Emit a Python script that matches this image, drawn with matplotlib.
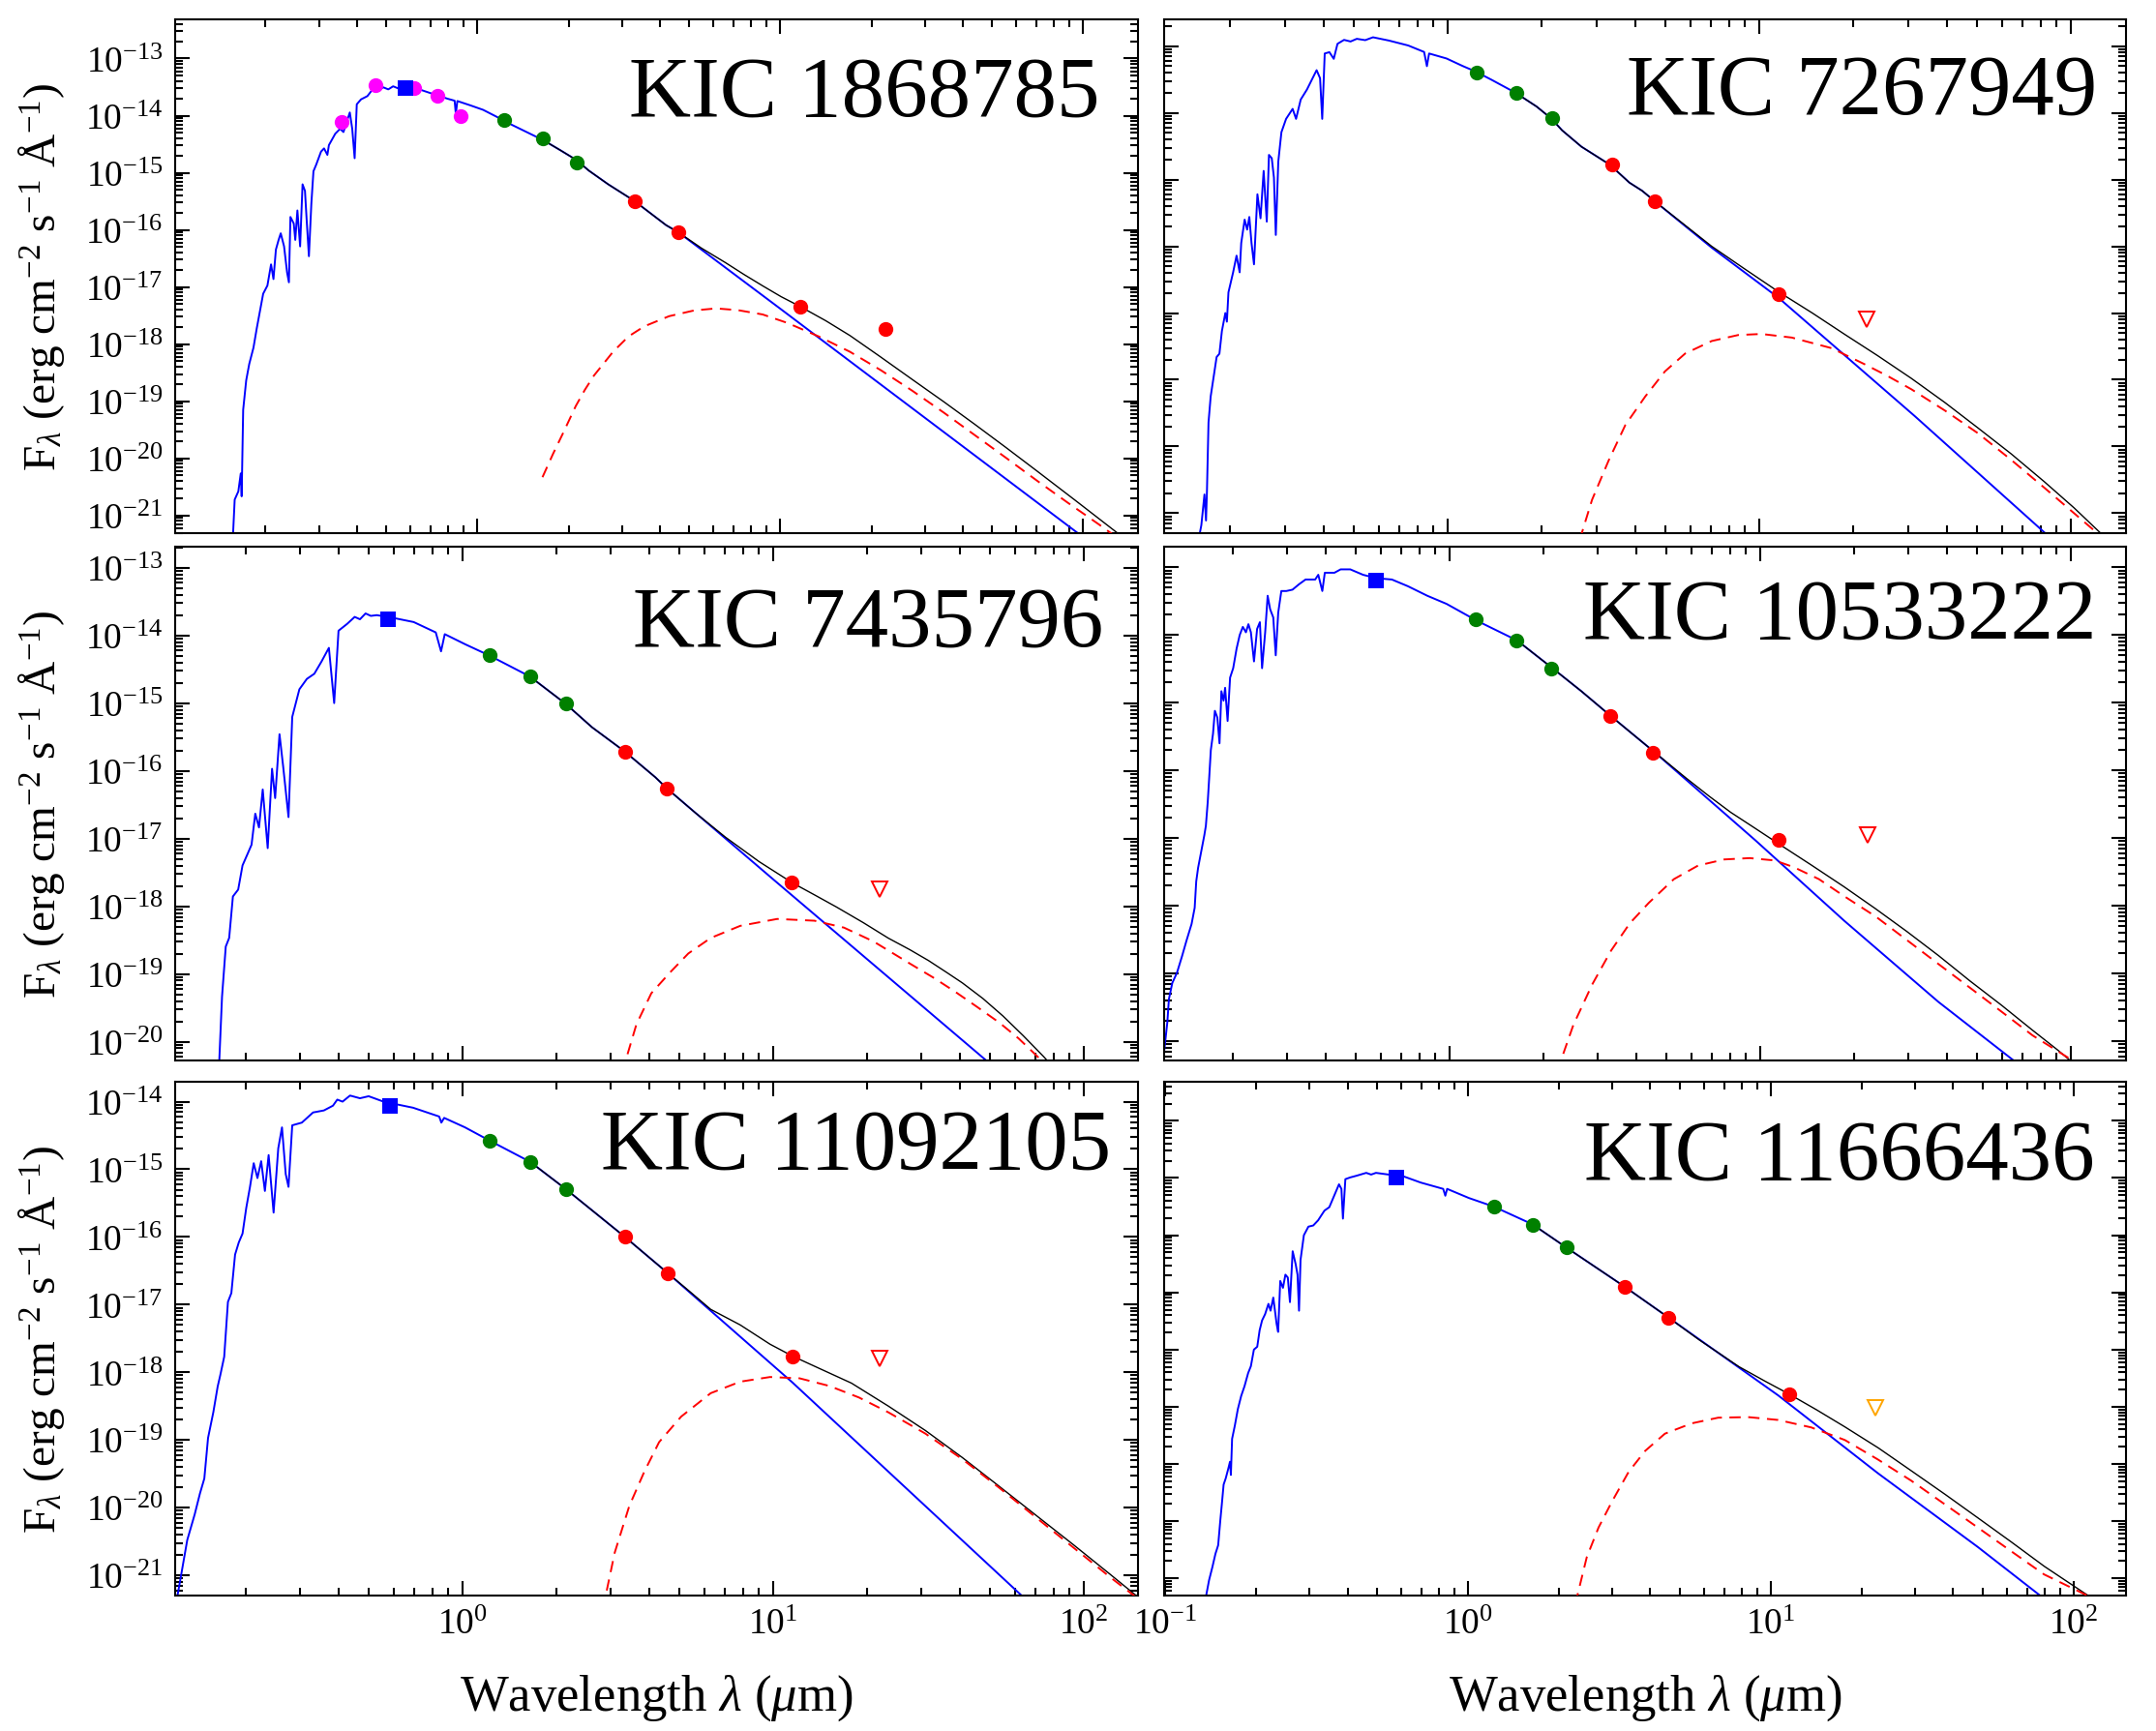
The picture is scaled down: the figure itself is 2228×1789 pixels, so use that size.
import numpy as np
import matplotlib
matplotlib.use("Agg")
import matplotlib.pyplot as plt
from matplotlib.ticker import FixedLocator, FuncFormatter, NullFormatter

plt.rcParams['font.family'] = 'serif'
plt.rcParams['font.serif'] = ['Liberation Serif', 'Times New Roman', 'DejaVu Serif']
plt.rcParams['mathtext.fontset'] = 'custom'
plt.rcParams['mathtext.rm'] = 'serif'
plt.rcParams['mathtext.it'] = 'serif:italic'
plt.rcParams['mathtext.bf'] = 'serif:bold'

# spectra: columns = log10(wavelength / um), log10(F_lambda)
# photometry: wavelength in um, log10(F_lambda)

# ---------------- KIC 1868785 ----------------
tl_star = np.array([
    [-0.808, -21.5], [-0.801, -20.722], [-0.789, -20.579], [-0.781, -20.264], [-0.778, -20.665],
    [-0.773, -19.149], [-0.763, -18.634], [-0.753, -18.348], [-0.739, -18.062], [-0.728, -17.719],
    [-0.721, -17.519], [-0.714, -17.319], [-0.707, -17.118], [-0.693, -16.975], [-0.681, -16.604],
    [-0.673, -16.861], [-0.665, -16.346], [-0.656, -16.175], [-0.649, -16.060], [-0.638, -16.289],
    [-0.628, -16.747], [-0.622, -16.918], [-0.617, -15.774], [-0.606, -15.889], [-0.601, -16.175],
    [-0.594, -15.660], [-0.585, -16.289], [-0.577, -15.202], [-0.569, -15.317], [-0.564, -15.774],
    [-0.556, -16.461], [-0.548, -15.545], [-0.541, -14.973], [-0.532, -14.859], [-0.516, -14.630],
    [-0.506, -14.573], [-0.495, -14.687], [-0.490, -14.516], [-0.469, -14.316], [-0.453, -14.230],
    [-0.442, -14.287], [-0.421, -13.944], [-0.413, -14.230], [-0.405, -14.745], [-0.398, -13.801],
    [-0.384, -13.715], [-0.363, -13.658], [-0.342, -13.515], [-0.326, -13.545], [-0.310, -13.505],
    [-0.294, -13.540], [-0.278, -13.486], [-0.257, -13.532], [-0.214, -13.515], [-0.183, -13.555],
    [-0.151, -13.612], [-0.098, -13.704], [-0.075, -13.738], [-0.071, -13.972], [-0.066, -13.744],
    [-0.024, -13.818], [0.019, -13.898], [0.061, -14.012], [0.114, -14.161], [0.167, -14.298],
    [0.220, -14.436], [0.273, -14.602], [0.326, -14.773], [0.368, -14.962], [0.432, -15.202],
    [0.517, -15.488], [0.623, -15.917], [0.664, -16.044], [1.0, -17.38], [1.5, -19.38], [2.05, -21.58]])
tl_total = np.array([
    [0.220, -14.436], [0.273, -14.602], [0.326, -14.773], [0.368, -14.962], [0.432, -15.202],
    [0.517, -15.488], [0.623, -15.917], [0.664, -16.044], [0.740, -16.32], [0.818, -16.57],
    [0.880, -16.78], [0.942, -16.98], [1.003, -17.17], [1.065, -17.34], [1.150, -17.59],
    [1.230, -17.85], [1.330, -18.22], [1.436, -18.62], [1.540, -19.01], [1.641, -19.40],
    [1.745, -19.81], [1.847, -20.22], [1.975, -20.74], [2.104, -21.27], [2.16, -21.5]])
tl_dust = np.array([
    [0.215, -20.33], [0.250, -19.92], [0.283, -19.558], [0.325, -19.083], [0.355, -18.80],
    [0.385, -18.55], [0.448, -18.134], [0.499, -17.866], [0.551, -17.689], [0.633, -17.511],
    [0.716, -17.41], [0.788, -17.375], [0.860, -17.405], [0.942, -17.481], [1.024, -17.63],
    [1.127, -17.866], [1.230, -18.134], [1.333, -18.46], [1.436, -18.817], [1.540, -19.20],
    [1.641, -19.589], [1.745, -19.99], [1.847, -20.389], [1.950, -20.78], [2.053, -21.161],
    [2.115, -21.4]])
tl_opt_w = [0.357, 0.461, 0.618, 0.738, 0.880]
tl_opt_f = [-14.104, -13.469, -13.515, -13.646, -14.001]
tl_kp_w = [0.581]
tl_kp_f = [-13.515]
tl_nir_w = [1.223, 1.647, 2.13]
tl_nir_f = [-14.07, -14.401, -14.813]
tl_wise_w = [3.31, 4.61, 11.6, 22.2]
tl_wise_f = [-15.50, -16.044, -17.35, -17.743]
tl_ul_w = []
tl_ul_f = []

# ---------------- KIC 7267949 ----------------
tr_star = np.array([
    [-0.800, -20.4], [-0.791, -20.18], [-0.781, -19.72], [-0.776, -20.11], [-0.773, -19.67],
    [-0.768, -18.64], [-0.761, -18.25], [-0.750, -17.91], [-0.742, -17.66], [-0.733, -17.61],
    [-0.725, -17.27], [-0.714, -17.00], [-0.709, -17.13], [-0.704, -16.69], [-0.689, -16.39],
    [-0.678, -16.14], [-0.668, -16.39], [-0.663, -15.95], [-0.652, -15.60], [-0.644, -15.75],
    [-0.637, -15.56], [-0.630, -15.95], [-0.622, -16.27], [-0.611, -15.22], [-0.601, -15.58],
    [-0.591, -14.87], [-0.581, -15.63], [-0.574, -14.63], [-0.565, -14.68], [-0.558, -14.97],
    [-0.552, -15.83], [-0.544, -14.73], [-0.534, -14.29], [-0.519, -14.09], [-0.498, -13.94],
    [-0.487, -14.09], [-0.472, -13.80], [-0.452, -13.65], [-0.436, -13.50], [-0.421, -13.36],
    [-0.410, -13.48], [-0.403, -14.09], [-0.395, -13.11], [-0.380, -13.09], [-0.366, -13.19],
    [-0.354, -12.965], [-0.333, -12.906], [-0.312, -12.93], [-0.292, -12.89], [-0.265, -12.91],
    [-0.240, -12.867], [-0.189, -12.916], [-0.127, -12.99], [-0.076, -13.087], [-0.067, -13.30],
    [-0.060, -13.11], [-0.004, -13.185], [0.048, -13.298], [0.089, -13.38], [0.140, -13.503],
    [0.218, -13.70], [0.285, -13.905], [0.331, -14.08], [0.367, -14.262], [0.429, -14.507],
    [0.520, -14.776], [0.583, -15.046], [0.624, -15.168], [0.6656, -15.33], [0.847, -16.02],
    [1.061, -16.77], [1.5, -18.55], [1.914, -20.285], [1.96, -20.48]])
tr_total = np.array([
    [0.218, -13.70], [0.285, -13.905], [0.331, -14.08], [0.367, -14.262], [0.429, -14.507],
    [0.520, -14.776], [0.583, -15.046], [0.624, -15.168], [0.6656, -15.33], [0.847, -16.0],
    [0.95, -16.33], [1.061, -16.68], [1.170, -17.00], [1.274, -17.32], [1.380, -17.64],
    [1.488, -17.98], [1.595, -18.34], [1.701, -18.72], [1.808, -19.11], [1.915, -19.53],
    [2.010, -19.92], [2.1, -20.32], [2.12, -20.4]])
tr_dust = np.array([
    [0.423, -20.4], [0.431, -20.285], [0.463, -19.80], [0.516, -19.214], [0.570, -18.678],
    [0.634, -18.25], [0.697, -17.875], [0.762, -17.607], [0.847, -17.42], [0.932, -17.33],
    [1.007, -17.314], [1.104, -17.368], [1.232, -17.527], [1.338, -17.768], [1.410, -17.94],
    [1.488, -18.143], [1.595, -18.46], [1.701, -18.80], [1.808, -19.20], [1.915, -19.62],
    [2.000, -19.96], [2.081, -20.285], [2.1, -20.37]])
tr_opt_w = []
tr_opt_f = []
tr_kp_w = []
tr_kp_f = []
tr_nir_w = [1.24, 1.663, 2.163]
tr_nir_f = [-13.39, -13.707, -14.082]
tr_wise_w = [3.365, 4.63, 11.5]
tr_wise_f = [-14.78, -15.33, -16.72]
tr_ul_w = [22.1]
tr_ul_f = [-17.087]

# ---------------- KIC 7435796 ----------------
ml_star = np.array([
    [-0.784, -20.4], [-0.774, -19.333], [-0.762, -18.594], [-0.751, -18.466], [-0.739, -17.854],
    [-0.722, -17.752], [-0.708, -17.395], [-0.691, -17.217], [-0.679, -17.09], [-0.667, -16.631],
    [-0.655, -16.835], [-0.643, -16.274], [-0.627, -17.14], [-0.613, -15.968], [-0.603, -16.401],
    [-0.589, -15.458], [-0.577, -15.943], [-0.560, -16.682], [-0.548, -15.202], [-0.525, -14.794],
    [-0.501, -14.641], [-0.477, -14.565], [-0.454, -14.386], [-0.430, -14.182], [-0.413, -14.998],
    [-0.399, -13.929], [-0.371, -13.827], [-0.347, -13.725], [-0.330, -13.760], [-0.312, -13.674],
    [-0.295, -13.710], [-0.276, -13.699], [-0.228, -13.735], [-0.157, -13.801], [-0.086, -13.954],
    [-0.069, -14.234], [-0.057, -13.980], [0.010, -14.132], [0.086, -14.294], [0.217, -14.605],
    [0.332, -15.008], [0.417, -15.355], [0.522, -15.712], [0.621, -16.094], [0.658, -16.258],
    [1.0, -17.60], [1.687, -20.28], [1.72, -20.41]])
ml_total = np.array([
    [0.217, -14.605], [0.332, -15.008], [0.417, -15.355], [0.522, -15.712], [0.621, -16.094],
    [0.658, -16.258], [0.750, -16.62], [0.847, -16.98], [0.955, -17.34], [1.061, -17.65],
    [1.133, -17.83], [1.204, -18.01], [1.290, -18.24], [1.371, -18.47], [1.440, -18.64],
    [1.500, -18.80], [1.560, -18.98], [1.609, -19.13], [1.675, -19.36], [1.740, -19.62],
    [1.805, -19.91], [1.871, -20.22], [1.91, -20.42]])
ml_dust = np.array([
    [0.514, -20.45], [0.560, -19.742], [0.608, -19.283], [0.668, -18.977], [0.727, -18.696],
    [0.799, -18.467], [0.894, -18.288], [1.013, -18.186], [1.133, -18.212], [1.228, -18.314],
    [1.323, -18.518], [1.442, -18.85], [1.515, -19.05], [1.585, -19.258], [1.655, -19.48],
    [1.728, -19.717], [1.790, -19.95], [1.847, -20.2], [1.88, -20.35]])
ml_opt_w = []
ml_opt_f = []
ml_kp_w = [0.578]
ml_kp_f = [-13.764]
ml_nir_w = [1.22, 1.65, 2.15]
ml_nir_f = [-14.294, -14.605, -15.008]
ml_wise_w = [3.33, 4.55, 11.5]
ml_wise_f = [-15.712, -16.258, -17.65]
ml_ul_w = [22.0]
ml_ul_f = [-17.752]

# ---------------- KIC 10533222 ----------------
mr_star = np.array([
    [-0.93, -20.6], [-0.909, -19.72], [-0.904, -19.38], [-0.893, -19.14], [-0.878, -18.99],
    [-0.862, -18.75], [-0.847, -18.51], [-0.831, -18.27], [-0.821, -18.03], [-0.816, -17.64],
    [-0.810, -17.44], [-0.800, -17.20], [-0.790, -16.96], [-0.785, -16.82], [-0.779, -16.47],
    [-0.774, -16.09], [-0.769, -15.70], [-0.762, -15.46], [-0.756, -15.12], [-0.748, -15.22],
    [-0.741, -15.60], [-0.735, -14.83], [-0.728, -14.97], [-0.723, -14.78], [-0.715, -15.27],
    [-0.707, -14.63], [-0.697, -14.49], [-0.686, -14.20], [-0.676, -14.00], [-0.666, -13.88],
    [-0.656, -13.96], [-0.648, -13.84], [-0.640, -13.96], [-0.630, -14.39], [-0.620, -13.91],
    [-0.611, -13.81], [-0.604, -14.49], [-0.594, -13.96], [-0.586, -13.42], [-0.578, -13.62],
    [-0.568, -13.74], [-0.560, -14.30], [-0.552, -13.67], [-0.542, -13.35], [-0.526, -13.35],
    [-0.506, -13.33], [-0.485, -13.25], [-0.464, -13.18], [-0.433, -13.18], [-0.423, -13.11],
    [-0.410, -13.35], [-0.402, -13.08], [-0.371, -13.08], [-0.351, -13.03], [-0.320, -13.03],
    [-0.279, -13.11], [-0.237, -13.16], [-0.186, -13.18], [-0.134, -13.28], [-0.072, -13.42],
    [-0.010, -13.54], [0.088, -13.79], [0.217, -14.08], [0.331, -14.49], [0.424, -14.83],
    [0.517, -15.19], [0.662, -15.74], [0.986, -17.04], [1.270, -18.22], [1.5735, -19.42],
    [1.817, -20.29], [1.85, -20.42]])
mr_total = np.array([
    [0.217, -14.08], [0.331, -14.49], [0.424, -14.83], [0.517, -15.19], [0.662, -15.74],
    [0.763, -16.12], [0.835, -16.38], [0.905, -16.62], [0.985, -16.86], [1.061, -17.09],
    [1.165, -17.40], [1.270, -17.72], [1.370, -18.04], [1.472, -18.38], [1.575, -18.74],
    [1.675, -19.11], [1.777, -19.47], [1.877, -19.84], [1.960, -20.14], [2.04, -20.45]])
mr_dust = np.array([
    [0.346, -20.45], [0.358, -20.29], [0.398, -19.765], [0.459, -19.163], [0.520, -18.661],
    [0.580, -18.26], [0.641, -17.958], [0.722, -17.607], [0.8, -17.406], [0.884, -17.316],
    [0.966, -17.296], [1.047, -17.331], [1.108, -17.43], [1.189, -17.607], [1.270, -17.858],
    [1.372, -18.16], [1.473, -18.51], [1.574, -18.862], [1.676, -19.214], [1.777, -19.565],
    [1.877, -19.916], [2.0, -20.27], [2.01, -20.35]])
mr_opt_w = []
mr_opt_f = []
mr_kp_w = [0.579]
mr_kp_f = [-13.194]
mr_nir_w = [1.216, 1.64, 2.13]
mr_nir_f = [-13.771, -14.086, -14.498]
mr_wise_w = [3.29, 4.5, 11.5]
mr_wise_f = [-15.191, -15.739, -17.03]
mr_ul_w = [22.1]
mr_ul_f = [-16.955]

# ---------------- KIC 11092105 ----------------
bl_star = np.array([
    [-0.925, -21.5], [-0.905, -20.98], [-0.886, -20.48], [-0.862, -20.10], [-0.845, -19.79],
    [-0.831, -19.57], [-0.819, -18.97], [-0.802, -18.59], [-0.788, -18.21], [-0.779, -18.03],
    [-0.767, -17.77], [-0.755, -16.96], [-0.744, -16.83], [-0.732, -16.26], [-0.720, -16.08],
    [-0.708, -15.95], [-0.696, -15.57], [-0.684, -15.26], [-0.672, -14.91], [-0.660, -15.13],
    [-0.648, -14.88], [-0.636, -15.32], [-0.624, -14.79], [-0.608, -15.64], [-0.593, -14.69],
    [-0.581, -14.38], [-0.569, -15.07], [-0.560, -15.26], [-0.548, -14.35], [-0.517, -14.31],
    [-0.481, -14.16], [-0.446, -14.13], [-0.417, -14.06], [-0.403, -13.97], [-0.386, -14.00],
    [-0.362, -13.91], [-0.330, -13.95], [-0.302, -13.92], [-0.254, -14.00], [-0.159, -14.09],
    [-0.075, -14.22], [-0.068, -14.31], [-0.059, -14.24], [0.008, -14.38], [0.089, -14.58],
    [0.218, -14.89], [0.332, -15.29], [0.523, -16.00], [0.661, -16.535], [1.062, -18.15],
    [1.8, -21.3], [1.85, -21.5]])
bl_total = np.array([
    [0.218, -14.89], [0.332, -15.29], [0.523, -16.00], [0.661, -16.535], [0.730, -16.80],
    [0.799, -17.07], [0.894, -17.30], [0.990, -17.585], [1.062, -17.76], [1.133, -17.91],
    [1.252, -18.16], [1.371, -18.50], [1.490, -18.86], [1.609, -19.26], [1.729, -19.69],
    [1.848, -20.12], [1.967, -20.55], [2.086, -20.99], [2.174, -21.32], [2.19, -21.4]])
bl_dust = np.array([
    [0.455, -21.5], [0.461, -21.3], [0.490, -20.667], [0.537, -19.976], [0.585, -19.472],
    [0.633, -19.032], [0.704, -18.655], [0.799, -18.309], [0.894, -18.139], [0.990, -18.07],
    [1.085, -18.089], [1.181, -18.202], [1.276, -18.372], [1.371, -18.592], [1.490, -18.906],
    [1.609, -19.284], [1.729, -19.711], [1.848, -20.152], [1.967, -20.592], [2.086, -21.032],
    [2.17, -21.33], [2.19, -21.42]])
bl_opt_w = []
bl_opt_f = []
bl_kp_w = [0.585]
bl_kp_f = [-14.063]
bl_nir_w = [1.227, 1.652, 2.148]
bl_nir_f = [-14.579, -14.893, -15.289]
bl_wise_w = [3.33, 4.58, 11.53]
bl_wise_f = [-16.0, -16.535, -17.774]
bl_ul_w = [22.0]
bl_ul_f = [-17.793]

# ---------------- KIC 11666436 ----------------
br_star = np.array([
    [-0.87, -22.45], [-0.855, -22.03], [-0.844, -21.80], [-0.834, -21.57], [-0.825, -21.42],
    [-0.818, -20.99], [-0.813, -20.71], [-0.807, -20.36], [-0.800, -20.25], [-0.791, -20.07],
    [-0.786, -19.96], [-0.783, -20.19], [-0.779, -19.56], [-0.770, -19.33], [-0.760, -19.04],
    [-0.749, -18.81], [-0.738, -18.64], [-0.726, -18.41], [-0.717, -18.29], [-0.707, -18.00],
    [-0.696, -17.95], [-0.688, -17.66], [-0.680, -17.49], [-0.670, -17.38], [-0.659, -17.20],
    [-0.652, -17.32], [-0.643, -17.09], [-0.632, -17.55], [-0.627, -17.69], [-0.620, -16.80],
    [-0.611, -16.92], [-0.603, -16.69], [-0.595, -16.74], [-0.588, -17.17], [-0.579, -16.28],
    [-0.569, -16.51], [-0.563, -16.69], [-0.558, -17.32], [-0.553, -16.43], [-0.542, -16.00],
    [-0.527, -15.85], [-0.511, -15.83], [-0.495, -15.74], [-0.484, -15.65], [-0.474, -15.57],
    [-0.458, -15.51], [-0.442, -15.31], [-0.426, -15.11], [-0.418, -15.19], [-0.413, -15.71],
    [-0.405, -15.02], [-0.389, -14.99], [-0.368, -14.96], [-0.336, -14.91], [-0.320, -14.94],
    [-0.304, -14.91], [-0.262, -14.94], [-0.219, -14.96], [-0.156, -15.08], [-0.082, -15.19],
    [-0.075, -15.31], [-0.069, -15.19], [0.003, -15.35], [0.085, -15.50], [0.213, -15.81],
    [0.326, -16.22], [0.517, -16.90], [0.662, -17.44], [1.024, -18.80], [1.353, -20.16],
    [1.683, -21.45], [1.889, -22.30], [1.92, -22.42]])
br_total = np.array([
    [0.213, -15.81], [0.326, -16.22], [0.517, -16.90], [0.662, -17.44], [0.7634, -17.83],
    [0.895, -18.30], [0.980, -18.55], [1.061, -18.78], [1.150, -19.05], [1.244, -19.35],
    [1.355, -19.72], [1.464, -20.12], [1.575, -20.53], [1.683, -20.94], [1.793, -21.36],
    [1.903, -21.79], [2.09, -22.45]])
br_dust = np.array([
    [0.355, -22.45], [0.361, -22.3], [0.392, -21.63], [0.431, -21.11], [0.475, -20.66],
    [0.530, -20.14], [0.585, -19.77], [0.650, -19.47], [0.738, -19.29], [0.826, -19.19],
    [0.925, -19.18], [1.024, -19.23], [1.133, -19.36], [1.244, -19.58], [1.353, -19.92],
    [1.463, -20.29], [1.573, -20.70], [1.683, -21.11], [1.792, -21.52], [1.902, -21.93],
    [2.045, -22.3], [2.06, -22.4]])
br_opt_w = []
br_opt_f = []
br_kp_w = [0.578]
br_kp_f = [-14.993]
br_nir_w = [1.216, 1.633, 2.118]
br_nir_f = [-15.498, -15.814, -16.216]
br_wise_w = [3.29, 4.59, 11.5]
br_wise_f = [-16.899, -17.44, -18.787]
br_ul_w = [22.2]
br_ul_f = [-19.025]

names = ['KIC 1868785', 'KIC 7267949', 'KIC 7435796',
         'KIC 10533222', 'KIC 11092105', 'KIC 11666436']

panels = [
    dict(star=tl_star, total=tl_total, dust=tl_dust, opt=(tl_opt_w, tl_opt_f), kp=(tl_kp_w, tl_kp_f),
         nir=(tl_nir_w, tl_nir_f), wise=(tl_wise_w, tl_wise_f), ul=(tl_ul_w, tl_ul_f), ulc='red'),
    dict(star=tr_star, total=tr_total, dust=tr_dust, opt=(tr_opt_w, tr_opt_f), kp=(tr_kp_w, tr_kp_f),
         nir=(tr_nir_w, tr_nir_f), wise=(tr_wise_w, tr_wise_f), ul=(tr_ul_w, tr_ul_f), ulc='red'),
    dict(star=ml_star, total=ml_total, dust=ml_dust, opt=(ml_opt_w, ml_opt_f), kp=(ml_kp_w, ml_kp_f),
         nir=(ml_nir_w, ml_nir_f), wise=(ml_wise_w, ml_wise_f), ul=(ml_ul_w, ml_ul_f), ulc='red'),
    dict(star=mr_star, total=mr_total, dust=mr_dust, opt=(mr_opt_w, mr_opt_f), kp=(mr_kp_w, mr_kp_f),
         nir=(mr_nir_w, mr_nir_f), wise=(mr_wise_w, mr_wise_f), ul=(mr_ul_w, mr_ul_f), ulc='red'),
    dict(star=bl_star, total=bl_total, dust=bl_dust, opt=(bl_opt_w, bl_opt_f), kp=(bl_kp_w, bl_kp_f),
         nir=(bl_nir_w, bl_nir_f), wise=(bl_wise_w, bl_wise_f), ul=(bl_ul_w, bl_ul_f), ulc='red'),
    dict(star=br_star, total=br_total, dust=br_dust, opt=(br_opt_w, br_opt_f), kp=(br_kp_w, br_kp_f),
         nir=(br_nir_w, br_nir_f), wise=(br_wise_w, br_wise_f), ul=(br_ul_w, br_ul_f), ulc='orange'),
]

# layout: axes rect, x range (um), y range (log10), title anchor
rects = [[0.0812, 0.6916, 0.4466, 0.2966], [0.5400, 0.6916, 0.4461, 0.2966],
         [0.0812, 0.3870, 0.4466, 0.2966], [0.5400, 0.3870, 0.4461, 0.2966],
         [0.0812, 0.0782, 0.4466, 0.2969], [0.5400, 0.0782, 0.4461, 0.2969]]
xlims = [(0.1005, 151.6), (0.123, 150.3), (0.1188, 149.4), (0.1205, 150.6), (0.1188, 149.4), (0.0993, 148.8)]
ylims = [(-21.31, -12.316), (-20.30, -12.60), (-20.28, -12.693), (-20.29, -12.70), (-21.30, -13.70), (-22.30, -13.31)]
title_xy = [(0.960, 0.814), (0.970, 0.818), (0.964, 0.81), (0.969, 0.824), (0.972, 0.832), (0.967, 0.812)]


def pow_label(v, pos):
    return r'$\mathregular{10^{%d}}$' % int(round(np.log10(v)))


def decade_ticks(lo, hi):
    # major (decades) and minor (2..9 x decade) positions inside [lo, hi]
    k0, k1 = int(np.floor(np.log10(lo))), int(np.ceil(np.log10(hi)))
    major = [10.0**k for k in range(k0, k1 + 1) if lo <= 10.0**k <= hi]
    minor = [m * 10.0**k for k in range(k0, k1 + 1) for m in range(2, 10) if lo <= m * 10.0**k <= hi]
    return major, minor


fig = plt.figure(figsize=(22.28, 17.9), dpi=100)

for i, p in enumerate(panels):
    ax = fig.add_axes(rects[i])
    ax.set_xscale('log')
    ax.set_yscale('log')

    ax.plot(10**p['star'][:, 0], 10**p['star'][:, 1], color='#0000ff', lw=1.4, zorder=2)
    ax.plot(10**p['total'][:, 0], 10**p['total'][:, 1], color='black', lw=1.0, zorder=3)
    ax.plot(10**p['dust'][:, 0], 10**p['dust'][:, 1], color='red', lw=1.4, ls=(0, (6, 4)), zorder=3)

    w, f = p['opt']
    ax.plot(w, 10**np.array(f, dtype=float), 'o', color='magenta', ms=11, mew=0, zorder=5)
    w, f = p['kp']
    ax.plot(w, 10**np.array(f, dtype=float), 's', color='#0000ff', ms=11, mew=0, zorder=6)
    w, f = p['nir']
    ax.plot(w, 10**np.array(f, dtype=float), 'o', color='green', ms=11, mew=0, zorder=5)
    w, f = p['wise']
    ax.plot(w, 10**np.array(f, dtype=float), 'o', color='red', ms=11, mew=0, zorder=5)
    w, f = p['ul']
    ax.plot(w, 10**np.array(f, dtype=float), 'v', mfc='none', mec=p['ulc'], ms=11, mew=1.4, zorder=5)

    x0, x1 = xlims[i]
    y0, y1 = 10**ylims[i][0], 10**ylims[i][1]
    ax.set_xlim(x0, x1)
    ax.set_ylim(y0, y1)

    xmaj, xmin = decade_ticks(x0, x1)
    ymaj, ymin = decade_ticks(y0, y1)
    ax.xaxis.set_major_locator(FixedLocator(xmaj))
    ax.xaxis.set_minor_locator(FixedLocator(xmin))
    ax.yaxis.set_major_locator(FixedLocator(ymaj))
    ax.yaxis.set_minor_locator(FixedLocator(ymin))
    ax.xaxis.set_minor_formatter(NullFormatter())
    ax.yaxis.set_minor_formatter(NullFormatter())

    ax.tick_params(which='both', direction='in', top=True, right=True, width=1.5)
    ax.tick_params(which='major', length=11, labelsize=27, pad=9)
    ax.tick_params(which='minor', length=5.5)
    for s in ax.spines.values():
        s.set_linewidth(1.5)

    if i % 2 == 0:
        ax.yaxis.set_major_formatter(FuncFormatter(pow_label))
        ax.set_ylabel(r'F$_\lambda$ (erg cm$^{-2}$ s$^{-1}$ Å$^{-1}$)', fontsize=34)
        ax.yaxis.set_label_coords(-0.112, 0.5)
    else:
        ax.yaxis.set_major_formatter(NullFormatter())
    if i >= 4:
        ax.xaxis.set_major_formatter(FuncFormatter(pow_label))
        ax.set_xlabel(r'Wavelength $\lambda$ ($\mu$m)', fontsize=38)
        ax.xaxis.set_label_coords(0.5, -0.15)
    else:
        ax.xaxis.set_major_formatter(NullFormatter())

    ax.text(title_xy[i][0], title_xy[i][1], names[i], transform=ax.transAxes,
            ha='right', va='baseline', fontsize=64)

fig.savefig('out.png', dpi=100)
